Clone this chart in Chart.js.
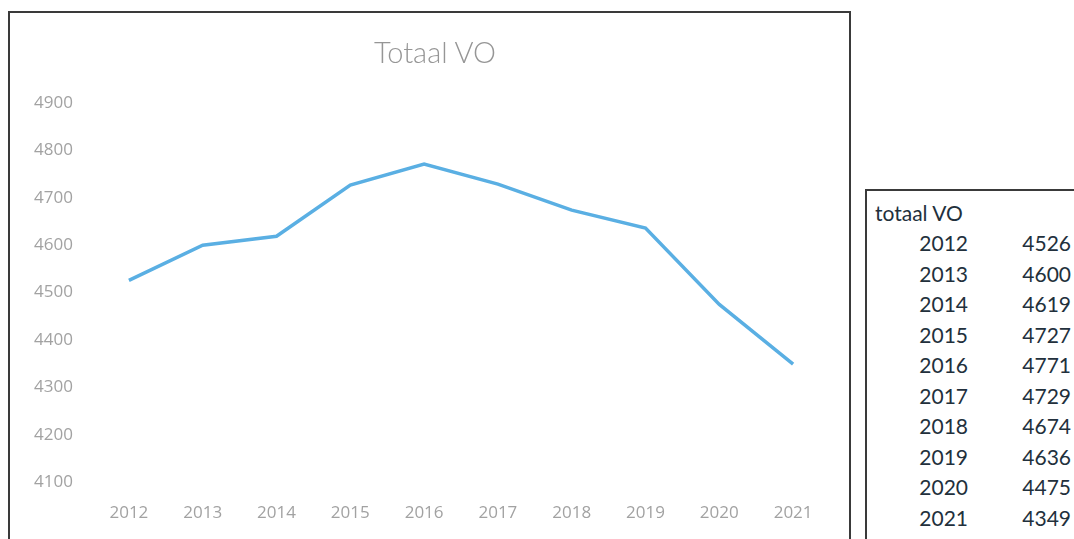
<!DOCTYPE html>
<html>
<head>
<meta charset="utf-8">
<script src="https://cdn.jsdelivr.net/npm/chart.js@4/dist/chart.umd.min.js"></script>
<style>
  html, body { margin: 0; padding: 0; background: #fff; width: 1074px; height: 539px; overflow: hidden; position: relative; }
  #frame { position: absolute; left: 8px; top: 11px; width: 843px; height: 540px; border: 2px solid #3a3a3a; box-sizing: border-box; }
  #wrap { position: absolute; left: 12px; top: 14px; width: 818px; height: 525px; }
  #title { position: absolute; left: 235px; width: 400px; top: 34px; height: 36px; line-height: 36px; text-align: center; font-family: Lato, sans-serif; font-weight: 300; font-size: 29px; color: #969696; white-space: nowrap; }
  #tbl { position: absolute; left: 865px; top: 189px; width: 220px; height: 360px; border: 2px solid #3a3a3a; box-sizing: border-box; font-family: Lato, "Open Sans", sans-serif; font-size: 21px; color: #22303c; }
  .cell { position: absolute; white-space: nowrap; line-height: 24px; }
</style>
</head>
<body>
<div id="frame"></div>
<div id="wrap"><canvas id="c"></canvas></div>
<div id="title"></div>
<div id="tbl"></div>
<script>
const chartTitle = "Totaal VO";
const tableHeader = "totaal VO";
const years = ["2012", "2013", "2014", "2015", "2016", "2017", "2018", "2019", "2020", "2021"];
const totaalVO = [4526, 4600, 4619, 4727, 4771, 4729, 4674, 4636, 4475, 4349];
const yTicks = [4100, 4200, 4300, 4400, 4500, 4600, 4700, 4800, 4900];

document.getElementById('title').textContent = chartTitle;

// table on the right
const tbl = document.getElementById('tbl');
function addCell(text, left, top, align) {
  const d = document.createElement('div');
  d.className = 'cell';
  d.textContent = text;
  d.style.top = top + 'px';
  if (align === 'right') { d.style.right = (220 - left) + 'px'; d.style.textAlign = 'right'; }
  else d.style.left = left + 'px';
  tbl.appendChild(d);
}
addCell(tableHeader, 8, 10, 'left');
years.forEach((y, i) => {
  const top = 40 + i * 30.5;
  addCell(y, 105, top, 'right');
  addCell(String(totaalVO[i]), 208, top, 'right');
});

new Chart(document.getElementById('c'), {
  type: 'line',
  data: {
    labels: years,
    datasets: [{
      data: totaalVO,
      borderColor: '#5aafe3',
      borderWidth: 3.5,
      pointRadius: 0,
      tension: 0,
      fill: false
    }]
  },
  options: {
    responsive: true,
    maintainAspectRatio: false,
    animation: false,
    layout: { padding: { top: 89, right: 0, bottom: 0, left: 0 } },
    plugins: {
      legend: { display: false },
      tooltip: { enabled: false },
      title: { display: false }
    },
    scales: {
      x: {
        offset: true,
        grid: { display: false, drawTicks: false },
        border: { display: false },
        ticks: { color: '#a2a2a2', font: { family: 'Open Sans', size: 17 }, padding: -2, maxRotation: 0 },
        afterFit: s => { s.height = 34; }
      },
      y: {
        min: 4052,
        max: 4900,
        grid: { display: false, drawTicks: false },
        border: { display: false },
        ticks: {
          color: '#a2a2a2',
          font: { family: 'Open Sans', size: 17 },
          padding: 19,
          callback: v => String(v)
        },
        afterBuildTicks: s => { s.ticks = yTicks.map(v => ({ value: v })); },
        afterFit: s => { s.width = 80; }
      }
    }
  }
});
</script>
</body>
</html>
